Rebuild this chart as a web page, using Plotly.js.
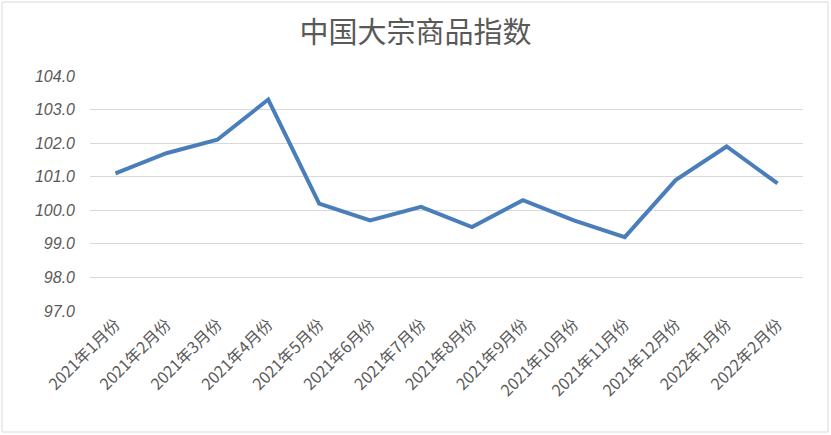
<!DOCTYPE html>
<html>
<head>
<meta charset="utf-8">
<script src="https://cdn.plot.ly/plotly-3.0.1.min.js"></script>
<style>html,body{margin:0;padding:0;background:#fff;}#chart{width:831px;height:435px;}</style>
</head>
<body>
<div id="chart"></div>
<script>
const categories = ["2021年1月份","2021年2月份","2021年3月份","2021年4月份","2021年5月份","2021年6月份","2021年7月份","2021年8月份","2021年9月份","2021年10月份","2021年11月份","2021年12月份","2022年1月份","2022年2月份"];
const indexValues = [101.1,101.7,102.1,103.3,100.2,99.7,100.1,99.5,100.3,99.7,99.2,100.9,101.9,100.8];
const yTicks = [97,98,99,100,101,102,103,104];
const chartTitle = "中国大宗商品指数";

const trace = {
  x: categories,
  y: indexValues,
  type: 'scatter',
  mode: 'lines',
  line: {color: '#4a7ebb', width: 4},
  hoverinfo: 'x+y'
};

const layout = {
  width: 831, height: 435,
  margin: {l: 90, r: 28, t: 76, b: 124},
  paper_bgcolor: '#ffffff',
  plot_bgcolor: '#ffffff',
  showlegend: false,
  font: {family: '"Noto Sans CJK SC", "Liberation Sans", sans-serif', color: '#595959'},
  title: {
    text: chartTitle,
    x: 0.5, xref: 'container', xanchor: 'center',
    y: 0.925, yref: 'container', yanchor: 'middle',
    font: {size: 29, color: '#595959', family: '"Noto Sans CJK SC", sans-serif'}
  },
  xaxis: {
    type: 'category',
    tickangle: -45,
    showgrid: false,
    zeroline: false,
    showline: false,
    ticks: '',
    tickfont: {size: 16, color: '#595959', family: '"Noto Sans CJK SC", "Liberation Sans", sans-serif'},
    range: [-0.5, categories.length - 0.5]
  },
  yaxis: {
    range: [97, 104],
    tickvals: yTicks,
    ticktext: yTicks.map(v => v.toFixed(1)),
    showgrid: true,
    gridcolor: '#d9d9d9',
    gridwidth: 1,
    zeroline: false,
    showline: false,
    ticks: '',
    ticklabelstandoff: 14,
    tickfont: {size: 16, color: '#595959', family: '"Liberation Sans", sans-serif', style: 'italic'}
  },
  shapes: [{
    type: 'rect', xref: 'paper', yref: 'paper',
    x0: -88/713, x1: 1 + 25/713, y0: -121/235, y1: 1 + 74/235,
    line: {color: '#d9d9d9', width: 1}, fillcolor: 'rgba(0,0,0,0)'
  }]
};

Plotly.newPlot('chart', [trace], layout, {displayModeBar: false, staticPlot: true});
</script>
</body>
</html>
